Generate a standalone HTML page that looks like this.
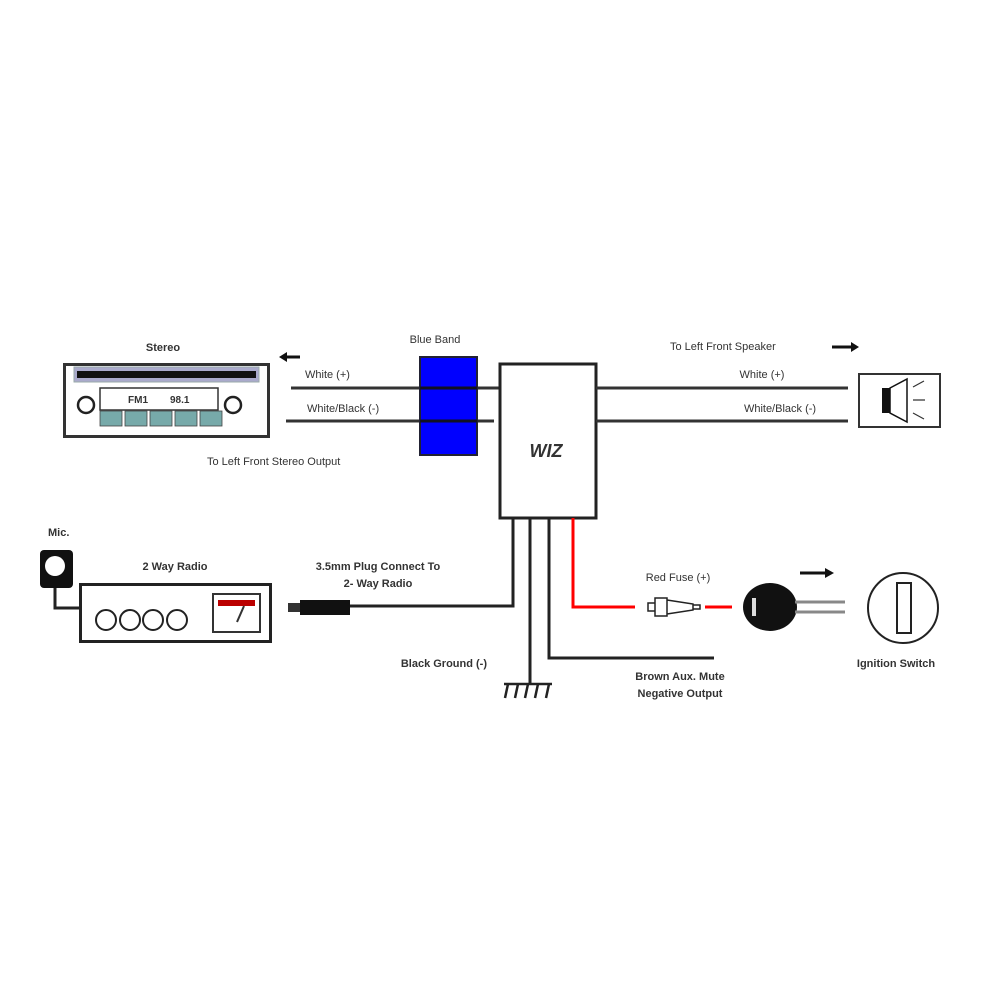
<!DOCTYPE html>
<html><head><style>body{margin:0;background:#fff}svg{display:block}text{font-family:"Liberation Sans",sans-serif;fill:#333}</style></head><body>
<svg width="1000" height="1000" viewBox="0 0 1000 1000" font-size="11">
<!-- Stereo -->
<text x="163" y="351" text-anchor="middle" font-weight="bold">Stereo</text>
<rect x="64.5" y="364.5" width="204" height="72" fill="#fff" stroke="#333" stroke-width="3"/>
<rect x="74" y="367" width="185" height="15" fill="#aac" stroke="#9aa" stroke-width="1"/>
<rect x="77" y="371" width="179" height="7" fill="#111"/>
<circle cx="86" cy="405" r="8" fill="#fff" stroke="#222" stroke-width="2.5"/>
<circle cx="233" cy="405" r="8" fill="#fff" stroke="#222" stroke-width="2.5"/>
<rect x="100" y="388" width="118" height="22" fill="#fff" stroke="#333" stroke-width="1.5"/>
<text x="128" y="403" style="font-size:10px" font-weight="bold" fill="#222">FM1</text>
<text x="170" y="403" style="font-size:10px" font-weight="bold" fill="#222">98.1</text>
<g fill="#7aa" stroke="#444" stroke-width="0.8">
<rect x="100" y="411" width="22" height="15"/><rect x="125" y="411" width="22" height="15"/><rect x="150" y="411" width="22" height="15"/><rect x="175" y="411" width="22" height="15"/><rect x="200" y="411" width="22" height="15"/></g>
<path d="M282 357H300" stroke="#111" stroke-width="3"/><path d="M279 357L287 352V362Z" fill="#111"/>
<!-- Left wires -->
<text x="305" y="378">White (+)</text>
<text x="307" y="412">White/Black (-)</text>
<path d="M291 388H500M286 421H494" stroke="#333" stroke-width="3"/>
<text x="435" y="343" text-anchor="middle">Blue Band</text>
<rect x="420" y="357" width="57" height="98" fill="#0000ff" stroke="#223" stroke-width="2"/>
<path d="M420 388H477M420 421H477" stroke="#112" stroke-width="3"/>
<text x="207" y="465">To Left Front Stereo Output</text>
<!-- WIZ -->
<rect x="500" y="364" width="96" height="154" fill="#fff" stroke="#222" stroke-width="3"/>
<text x="546" y="457" text-anchor="middle" style="font-size:18px" font-weight="bold" font-style="italic" fill="#111">WIZ</text>
<!-- Right wires -->
<path d="M596 388H848M596 421H848" stroke="#333" stroke-width="3"/>
<text x="762" y="378" text-anchor="middle">White (+)</text>
<text x="780" y="412" text-anchor="middle">White/Black (-)</text>
<text x="670" y="350">To Left Front Speaker</text>
<path d="M832 347H852" stroke="#111" stroke-width="3"/><path d="M859 347L851 342V352Z" fill="#111"/>
<rect x="859" y="374" width="81" height="53" fill="#fff" stroke="#333" stroke-width="2"/>
<rect x="882" y="388" width="8" height="25" fill="#111"/>
<path d="M890 388L907 379V422L890 413Z" fill="#fff" stroke="#111" stroke-width="1.5"/>
<path d="M913 387L924 381M913 400H925M913 413L924 419" stroke="#333" stroke-width="1.2"/>
<!-- Bottom wires -->
<path d="M513 518V606H350" fill="none" stroke="#222" stroke-width="3"/>
<path d="M530 518V684" stroke="#222" stroke-width="3"/>
<path d="M549 518V658H714" fill="none" stroke="#222" stroke-width="3"/>
<path d="M504 684H552M508 684L505 698M518 684L515 698M528 684L525 698M538 684L535 698M549 684L546 698" stroke="#222" stroke-width="2.5" fill="none"/>
<path d="M573 518V607H635" fill="none" stroke="#f00" stroke-width="3"/>
<path d="M705 607H732" stroke="#f00" stroke-width="3"/>
<!-- Fuse -->
<path d="M648 603H655V611H648Z M655 598H667V616H655Z M667 600L693 604V610L667 614Z M693 605H700V609H693Z" fill="#fff" stroke="#222" stroke-width="1.5"/>
<text x="678" y="581" text-anchor="middle">Red Fuse (+)</text>
<text x="487" y="667" text-anchor="end" font-weight="bold">Black Ground (-)</text>
<text x="680" y="680" text-anchor="middle" font-weight="bold">Brown Aux. Mute</text>
<text x="680" y="697" text-anchor="middle" font-weight="bold">Negative Output</text>
<!-- Key -->
<ellipse cx="770" cy="607" rx="27" ry="24" fill="#111"/>
<rect x="752" y="598" width="4" height="18" fill="#ddd"/>
<path d="M795 602H845M795 612H845" stroke="#888" stroke-width="3"/>
<path d="M800 573H826" stroke="#111" stroke-width="3"/><path d="M834 573L825 568V578Z" fill="#111"/>
<circle cx="903" cy="608" r="35" fill="#fff" stroke="#222" stroke-width="2"/>
<rect x="897" y="583" width="14" height="50" fill="#fff" stroke="#222" stroke-width="2"/>
<text x="896" y="667" text-anchor="middle" font-weight="bold">Ignition Switch</text>
<!-- Radio -->
<text x="48" y="536" font-weight="bold">Mic.</text>
<rect x="40" y="550" width="33" height="38" rx="4" fill="#111"/>
<circle cx="55" cy="566" r="10" fill="#fff"/>
<path d="M55 588V608H80" fill="none" stroke="#222" stroke-width="3"/>
<text x="175" y="570" text-anchor="middle" font-weight="bold">2 Way Radio</text>
<rect x="80.5" y="584.5" width="190" height="57" fill="#fff" stroke="#222" stroke-width="3"/>
<g fill="#fff" stroke="#222" stroke-width="2"><circle cx="106" cy="620" r="10"/><circle cx="130" cy="620" r="10"/><circle cx="153" cy="620" r="10"/><circle cx="177" cy="620" r="10"/></g>
<rect x="213" y="594" width="47" height="38" fill="#fff" stroke="#333" stroke-width="2"/>
<rect x="218" y="600" width="37" height="6" fill="#b00"/>
<path d="M244 606L237 622" stroke="#333" stroke-width="2"/>
<text x="378" y="570" text-anchor="middle" font-weight="bold">3.5mm Plug Connect To</text>
<text x="378" y="587" text-anchor="middle" font-weight="bold">2- Way Radio</text>
<rect x="288" y="603" width="12" height="9" fill="#333"/>
<rect x="300" y="600" width="50" height="15" fill="#111"/>
</svg>
</body></html>
